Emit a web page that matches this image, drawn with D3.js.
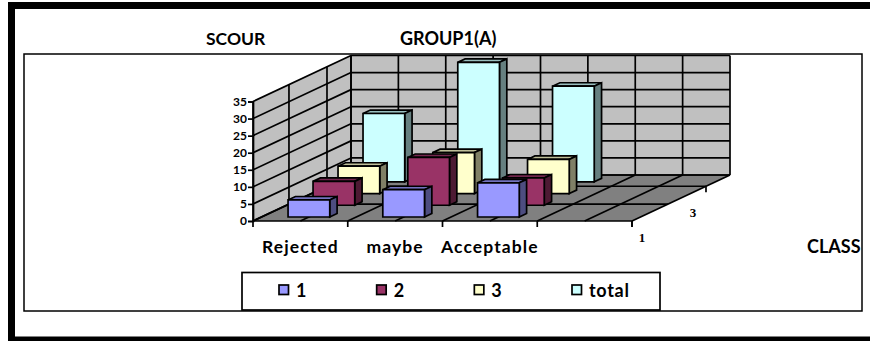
<!DOCTYPE html>
<html>
<head>
<meta charset="utf-8">
<script src="https://cdn.jsdelivr.net/npm/d3@7/dist/d3.min.js"></script>
<style>
html,body{margin:0;padding:0;background:#fff}
svg{display:block}
text{font-family:Lato,"Open Sans",sans-serif;font-weight:700;fill:#000}
</style>
</head>
<body>
<svg id="chart" width="870" height="341"></svg>
<script>
// Chart data
const categories = ["Rejected", "maybe", "Acceptable", ""];
const seriesNames = ["1", "2", "3", "total"];
const series1 = [5, 8, 10, 0];
const series2 = [7, 14, 8, 0];
const series3 = [8, 12, 10, 0];
const seriesTotal = [20, 35, 28, 0];
const valueTicks = [0, 5, 10, 15, 20, 25, 30, 35];
const depthLabels = ["1", "3"];

const seriesValues = [series1, series2, series3, seriesTotal];
const faceColors = ["#9999FF", "#993366", "#FFFFCC", "#CCFFFF"];

const svg = d3.select("#chart");

// Oblique projection: x runs along the front edge, depth recedes up and to the right.
const origin = {x: 253, y: 221};
const plotWidth = 379;
const wallHeight = 119.5;
const depthVector = {x: 98, y: -46};

const x = d3.scaleBand().domain(categories).range([0, plotWidth]).paddingInner(0.56).paddingOuter(0.28);
const xGrid = d3.scaleLinear().domain([0, 8]).range([0, plotWidth]);
const y = d3.scaleLinear().domain([0, 35]).range([0, wallHeight]);
const depth = d3.scalePoint().domain(seriesNames).range([0.087, 0.852]);
const barDepth = 0.075;
const wallDepthStops = [0, 0.367, 0.755, 1];

const project = (px, d, v) => [
  origin.x + px + d * depthVector.x,
  origin.y - y(v) + d * depthVector.y
];
const poly = pts => pts.map(p => p.join(",")).join(" ");

// Outer frame and inner chart border
svg.append("rect").attr("x", 11.5).attr("y", 5.5).attr("width", 870).attr("height", 334.5)
  .attr("fill", "#fff").attr("stroke", "#000").attr("stroke-width", 7);
svg.append("rect").attr("x", 24).attr("y", 54).attr("width", 838).attr("height", 257)
  .attr("fill", "#fff").attr("stroke", "#000").attr("stroke-width", 1.5);

// Back wall, side wall and floor
const wallG = svg.append("g");
const wallStyle = sel => sel.attr("stroke", "#000").attr("stroke-width", 1.7);
wallG.append("polygon")
  .attr("points", poly([project(0, 1, 0), project(plotWidth, 1, 0), project(plotWidth, 1, 35), project(0, 1, 35)]))
  .attr("fill", "#C0C0C0");
wallG.append("polygon")
  .attr("points", poly([project(0, 0, 0), project(0, 1, 0), project(0, 1, 35), project(0, 0, 35)]))
  .attr("fill", "#C0C0C0");
wallG.append("polygon")
  .attr("points", poly([project(0, 0, 0), project(plotWidth, 0, 0), project(plotWidth, 1, 0), project(0, 1, 0)]))
  .attr("fill", "#808080");

const seg = (a, b) => wallG.append("line")
  .attr("x1", a[0]).attr("y1", a[1]).attr("x2", b[0]).attr("y2", b[1]).call(wallStyle);

// Horizontal value gridlines across both walls
valueTicks.forEach(v => {
  seg(project(0, 0, v), project(0, 1, v));
  seg(project(0, 1, v), project(plotWidth, 1, v));
});
// Vertical divisions on the back wall, continued across the floor
d3.range(0, 9).forEach(i => {
  seg(project(xGrid(i), 1, 0), project(xGrid(i), 1, 35));
  seg(project(xGrid(i), 0, 0), project(xGrid(i), 1, 0));
});
// Depth divisions on the side wall and floor
wallDepthStops.forEach(d => {
  seg(project(0, d, 0), project(0, d, 35));
  seg(project(0, d, 0), project(plotWidth, d, 0));
});

// Bars, painted from the back row forward
const barsG = svg.append("g");
seriesNames.map((name, s) => s).reverse().forEach(s => {
  categories.forEach((cat, c) => {
    const v = seriesValues[s][c];
    if (!v) return;
    const x0 = x(cat), x1 = x0 + x.bandwidth();
    const d0 = depth(seriesNames[s]), d1 = d0 + barDepth;
    const base = d3.color(faceColors[s]);
    const shade = k => d3.rgb(base.r * k, base.g * k, base.b * k).formatHex();
    const g = barsG.append("g")
      .attr("stroke", "#000").attr("stroke-width", 1.7).attr("stroke-linejoin", "miter");
    g.append("polygon").attr("fill", shade(0.75))
      .attr("points", poly([project(x0, d0, v), project(x1, d0, v), project(x1, d1, v), project(x0, d1, v)]));
    g.append("polygon").attr("fill", shade(0.5))
      .attr("points", poly([project(x1, d0, 0), project(x1, d1, 0), project(x1, d1, v), project(x1, d0, v)]));
    g.append("polygon").attr("fill", faceColors[s])
      .attr("points", poly([project(x0, d0, 0), project(x1, d0, 0), project(x1, d0, v), project(x0, d0, v)]));
  });
});

// Value axis on the front edge of the side wall
const yAxisScale = d3.scaleLinear().domain([0, 35]).range([origin.y, origin.y - wallHeight]);
const yAxis = svg.append("g").attr("transform", `translate(${origin.x},0)`)
  .call(d3.axisLeft(yAxisScale).tickValues(valueTicks).tickSize(5).tickPadding(1).tickFormat(d3.format("d")));
yAxis.selectAll("line,path").attr("stroke", "#000").attr("stroke-width", 1.7);
yAxis.selectAll("text").attr("font-size", 12).style("font-family", "Lato,sans-serif").style("font-weight", 700);

// Category axis along the front edge of the floor
const xTickG = svg.append("g");
d3.range(0, 5).forEach(i => {
  const p = project(xGrid(i * 2), 0, 0);
  xTickG.append("line").attr("x1", p[0]).attr("y1", p[1]).attr("x2", p[0]).attr("y2", p[1] + 6)
    .attr("stroke", "#000").attr("stroke-width", 1.7);
});
svg.append("g").selectAll("text").data(categories.filter(c => c)).join("text")
  .attr("x", c => origin.x + x(c) + x.bandwidth() / 2)
  .attr("y", 253)
  .attr("text-anchor", "middle")
  .attr("font-size", 17.5)
  .attr("letter-spacing", 1.1)
  .text(c => c);

// Depth axis ticks and serif labels at the right front edge
const depthStopsLabelled = [0, wallDepthStops[2]];
depthStopsLabelled.forEach((d, i) => {
  const p = project(plotWidth, d, 0);
  svg.append("line").attr("x1", p[0]).attr("y1", p[1]).attr("x2", p[0]).attr("y2", p[1] + 6)
    .attr("stroke", "#000").attr("stroke-width", 1.7);
  svg.append("text").attr("x", p[0] + (i ? -13 : 10)).attr("y", p[1] + (i ? 30.5 : 20.5))
    .attr("text-anchor", "middle")
    .style("font-family", "'Liberation Serif',serif")
    .attr("font-size", 13)
    .text(depthLabels[i]);
});

// Titles
const label = (t, tx, ty, size, spacing) => svg.append("text").attr("x", tx).attr("y", ty)
  .attr("font-size", size).attr("letter-spacing", spacing).text(t);
label("SCOUR", 206, 45, 17.5, 0);
label("GROUP1(A)", 400, 45, 18, 0);
label("CLASS", 807, 253, 18, 0);

// Legend
const legendX = d3.scalePoint().domain(seriesNames).range([279, 572]);
svg.append("rect").attr("x", 242).attr("y", 272.5).attr("width", 418).attr("height", 37.5)
  .attr("fill", "#fff").attr("stroke", "#000").attr("stroke-width", 1.7);
const legend = svg.append("g").selectAll("g").data(seriesNames).join("g")
  .attr("transform", n => `translate(${legendX(n)},285)`);
legend.append("rect").attr("width", 9.5).attr("height", 9.5)
  .attr("fill", (n, i) => faceColors[i]).attr("stroke", "#000").attr("stroke-width", 1.7);
legend.append("text").attr("x", 17).attr("y", 11.5).attr("font-size", 18).attr("letter-spacing", 0.7).text(n => n);
</script>
</body>
</html>
